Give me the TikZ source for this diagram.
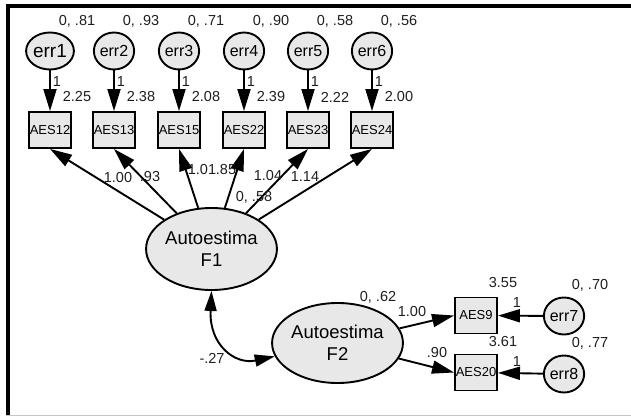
\documentclass[tikz,border=0pt]{standalone}
\usepackage{fontspec}
\setmainfont{Liberation Sans}
\usetikzlibrary{arrows.meta,shapes.geometric}
\definecolor{nodefill}{RGB}{232,232,232}
\definecolor{labeltext}{RGB}{30,30,30}
\tikzset{
  obs/.style={draw, line width=1.9pt, fill=nodefill, minimum width=42pt, minimum height=36pt,
    inner sep=0pt, font=\fontsize{13}{13}\selectfont},
  errc/.style={ellipse, draw, line width=1.9pt, fill=nodefill, minimum width=38pt, minimum height=37pt,
    inner sep=0pt, font=\fontsize{16}{16}\selectfont},
  latent/.style={ellipse, draw, line width=1.9pt, fill=nodefill, inner sep=0pt, align=center,
    font=\fontsize{18.5}{22}\selectfont},
  est/.style={font=\fontsize{14.5}{14.5}\selectfont, text=labeltext, inner sep=0pt},
  regpath/.style={line width=1.9pt, -{Triangle[length=22pt,width=13pt]}},
  covpath/.style={line width=1.9pt, {Triangle[length=20pt,width=12pt]}-{Triangle[length=20pt,width=12pt]}},
}
\begin{document}
\begin{tikzpicture}[x=1pt,y=-1pt]
\useasboundingbox (0,0) rectangle (631,417);
% frame
\draw[line width=3.5pt] (6,6) -- (631,6);
\draw[line width=3.5pt] (8,4.25) -- (8,415);
\draw[line width=1.2pt, draw=gray!45] (6,415.5) -- (631,415.5);

% first factor: indicators with their error terms (err1 is set in a larger type)
\foreach \x/\n/\v/\m/\b/\fs in {50/1/.81/2.25/AES12/19, 114/2/.93/2.38/AES13/16, 179/3/.71/2.08/AES15/16,
                              244/4/.90/2.39/AES22/16, 308/5/.58/2.22/AES23/16, 372/6/.56/2.00/AES24/16}{
  \node[errc, font=\fontsize{\fs}{\fs}\selectfont] (e\n) at (\x,51) {err\n};
  \node[obs] (b\n) at (\x,130) {\b};
  \draw[regpath] (e\n) -- (b\n);
  \node[est] (ev\n) at (\x+27,21) {0, \v};
  \node[est] (one\n) at (\x+7,82) {1};
  \node[est] (int\n) at (\x+27,97) {\m};
}

\node[latent, minimum width=129pt, minimum height=82pt] (F1) at (211.5,249) {Autoestima\\F1};
\foreach \n in {1,...,6} \draw[regpath] (F1) -- (b\n.south);

\node[est] (w1) at (118,178) {1.00};
\node[est] (w2) at (150,177) {.93};
\node[est] (w3) at (202,170) {1.01};
\node[est] (w4) at (226,170) {.85};
\node[est] (w5) at (268,176) {1.04};
\node[est] (w6) at (305,177) {1.14};
\node[est] (vf1) at (254,197) {0, .58};

% second factor
\node[latent, minimum width=117pt, minimum height=80pt] (F2) at (337.5,343) {Autoestima\\F2};
\node[obs] (b9) at (476,315.5) {AES9};
\node[obs] (b20) at (476,372.5) {AES20};
\node[errc] (e7) at (564,316) {err7};
\node[errc] (e8) at (564,374) {err8};
\draw[regpath] (F2) -- (b9.west);
\draw[regpath] (F2) -- (b20.west);
\draw[regpath] (e7) -- (b9);
\draw[regpath] (e8) -- (b20);

\node[est] (vf2) at (378,297) {0, .62};
\node[est] (w9) at (412,312) {1.00};
\node[est] (w20) at (437,353) {.90};
\node[est] (int9) at (503,283) {3.55};
\node[est] (int20) at (503,342) {3.61};
\node[est] (one7) at (517,303) {1};
\node[est] (one8) at (517,362) {1};
\node[est] (ev7) at (590,285) {0, .70};
\node[est] (ev8) at (590,343) {0, .77};

% factor covariance
\draw[covpath] (F1.south) .. controls (209,345) and (235,365) .. (F2.192);
\node[est] (cv) at (212,358) {-.27};
\end{tikzpicture}
\end{document}
